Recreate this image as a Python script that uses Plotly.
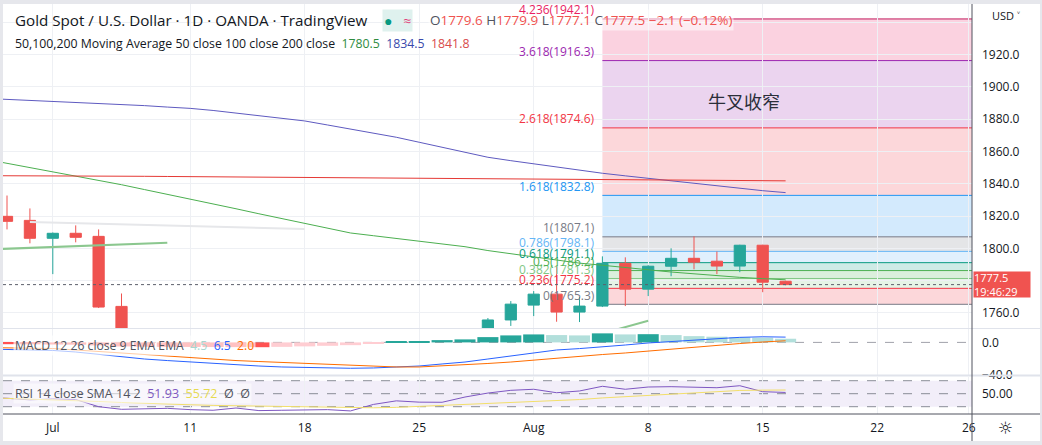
import plotly.graph_objects as go

# ---------------- data ----------------
dates = ["2022-06-28", "2022-06-29", "2022-06-30", "2022-07-01", "2022-07-04", "2022-07-05",
         "2022-07-06", "2022-07-07", "2022-07-08", "2022-07-11", "2022-07-12", "2022-07-13",
         "2022-07-14", "2022-07-15", "2022-07-18", "2022-07-19", "2022-07-20", "2022-07-21",
         "2022-07-22", "2022-07-25", "2022-07-26", "2022-07-27", "2022-07-28", "2022-07-29",
         "2022-08-01", "2022-08-02", "2022-08-03", "2022-08-04", "2022-08-05", "2022-08-08",
         "2022-08-09", "2022-08-10", "2022-08-11", "2022-08-12", "2022-08-15", "2022-08-16"]
future_dates = ["2022-08-17", "2022-08-18", "2022-08-19", "2022-08-22", "2022-08-23",
                "2022-08-24", "2022-08-25", "2022-08-26", "2022-08-29"]

open_ = [1821.0, 1819.8, 1817.3, 1806.2, 1809.3, 1807.4, 1764.0, 1739.5, 1740.0, 1742.0, 1733.0, 1725.5,
         1735.0, 1709.0, 1708.0, 1709.5, 1711.0, 1696.0, 1719.0, 1727.0, 1719.0, 1717.0, 1734.5, 1755.6,
         1764.8, 1771.6, 1760.5, 1764.2, 1790.7, 1774.7, 1788.9, 1793.8, 1792.0, 1789.0, 1801.9, 1779.6]
high = [1830.0, 1832.7, 1824.7, 1809.8, 1814.2, 1811.7, 1772.0, 1749.5, 1748.0, 1745.0, 1738.5, 1745.0,
        1736.0, 1716.5, 1724.0, 1717.0, 1719.0, 1721.0, 1739.0, 1736.0, 1727.0, 1740.0, 1756.8, 1767.3,
        1773.5, 1789.0, 1769.8, 1795.0, 1794.4, 1789.5, 1800.0, 1807.4, 1798.0, 1802.2, 1802.2, 1779.9]
low = [1814.0, 1811.7, 1803.1, 1784.0, 1803.7, 1763.0, 1732.0, 1732.5, 1737.0, 1728.5, 1722.0, 1707.5,
       1697.5, 1696.0, 1706.0, 1706.5, 1692.0, 1681.0, 1713.0, 1715.5, 1711.0, 1712.0, 1730.0, 1751.9,
       1758.0, 1754.5, 1754.3, 1763.6, 1764.2, 1770.4, 1782.7, 1787.0, 1784.0, 1785.2, 1772.8, 1777.1]
close = [1820.0, 1816.7, 1806.2, 1809.3, 1806.8, 1763.6, 1739.0, 1740.0, 1742.5, 1733.0, 1725.5, 1735.0,
         1709.0, 1708.0, 1709.5, 1711.0, 1696.0, 1719.0, 1727.0, 1719.0, 1717.0, 1734.5, 1755.6, 1765.4,
         1771.6, 1760.5, 1764.2, 1790.7, 1774.7, 1788.9, 1793.8, 1791.4, 1789.0, 1801.9, 1779.0, 1777.5]

ma50 = [1855.3, 1852.7, 1850.1, 1847.6, 1845.0, 1842.4, 1839.4, 1836.4, 1833.5, 1830.5, 1827.4, 1824.5,
        1821.4, 1818.4, 1815.4, 1812.4, 1809.5, 1807.8, 1806.1, 1804.5, 1802.8, 1801.0, 1798.6, 1796.6,
        1794.6, 1792.6, 1790.8, 1789.5, 1788.0, 1786.5, 1785.3, 1784.2, 1783.0, 1782.0, 1781.2, 1780.5]
ma100 = [1892.9, 1892.3, 1891.8, 1891.2, 1890.6, 1890.0, 1889.2, 1888.4, 1887.5, 1886.7, 1885.4, 1883.8,
         1882.3, 1880.7, 1878.9, 1876.4, 1873.9, 1871.4, 1868.8, 1865.7, 1862.5, 1859.2, 1856.4, 1854.3,
         1852.3, 1850.2, 1848.1, 1846.5, 1844.9, 1843.3, 1841.8, 1840.2, 1838.7, 1837.2, 1835.7, 1834.5]
ma200 = [1845.0, 1845.0, 1844.9, 1844.9, 1844.8, 1844.7, 1844.6, 1844.6, 1844.5, 1844.4, 1844.4, 1844.3,
         1844.2, 1844.1, 1844.1, 1844.0, 1843.9, 1843.8, 1843.7, 1843.6, 1843.5, 1843.4, 1843.3, 1843.2,
         1843.1, 1843.0, 1842.9, 1842.8, 1842.7, 1842.6, 1842.5, 1842.3, 1842.2, 1842.0, 1841.9, 1841.8]

macd_line = [-8.1, -8.7, -9.3, -9.9, -11.8, -14.9, -18.0, -20.4, -22.3, -24.1, -26.0, -27.8,
             -29.0, -30.2, -30.8, -31.4, -31.8, -31.4, -30.2, -29.0, -26.5, -24.1, -20.4, -16.7,
             -12.4, -9.3, -7.6, -5.7, -3.2, -0.7, 1.1, 2.9, 4.2, 6.2, 6.9, 6.5]
macd_signal = [-6.3, -6.5, -6.9, -7.5, -9.3, -11.2, -13.0, -14.9, -16.7, -18.6, -20.4, -22.3,
               -23.5, -24.7, -25.9, -27.2, -28.4, -29.6, -30.2, -30.2, -29.0, -27.8, -25.9, -24.1,
               -21.6, -19.5, -17.3, -14.9, -13.0, -10.6, -8.1, -5.7, -3.2, -1.4, 0.5, 2.0]
macd_hist = [-1.8, -2.2, -2.4, -2.6, -2.8, -3.7, -5.0, -5.3, -5.5, -5.6, -5.7, -5.8,
             -5.9, -5.5, -4.9, -4.2, -3.4, -1.8, 0.7, 1.6, 2.8, 3.7, 6.5, 8.6,
             9.8, 9.0, 8.6, 11.1, 9.8, 10.1, 9.0, 7.7, 7.0, 6.5, 5.8, 4.5]

rsi = [44.0, 43.0, 40.5, 42.0, 41.0, 30.0, 26.0, 27.0, 27.5, 25.5, 24.5, 28.0,
       24.0, 24.5, 25.0, 25.5, 23.5, 33.5, 39.0, 37.0, 36.8, 44.9, 51.0, 55.2,
       56.8, 51.5, 54.2, 61.4, 56.8, 60.3, 60.8, 60.3, 59.2, 62.3, 53.1, 51.93]
rsi_sma = [44.0, 43.0, 42.0, 41.0, 40.0, 38.0, 36.5, 35.0, 34.0, 33.0, 32.0, 31.5,
           31.0, 30.5, 30.0, 29.5, 28.5, 28.3, 29.0, 30.5, 31.8, 33.0, 34.5, 36.0,
           37.5, 39.0, 41.0, 43.5, 45.5, 47.5, 49.5, 51.5, 53.0, 55.0, 55.5, 55.72]
rsi_levels = [70, 50, 30]

fib_start = "2022-08-04"
fib_ratios = ["0", "0.236", "0.382", "0.5", "0.618", "0.786", "1", "1.618", "2.618", "3.618", "4.236"]
fib_prices = [1765.3, 1775.2, 1781.3, 1786.2, 1791.1, 1798.1, 1807.1, 1832.8, 1874.6, 1916.3, 1942.1]

trend_green_a = (["2022-06-28", "2022-07-08"], [1799.2, 1803.5])
trend_green_b = (["2022-07-21", "2022-08-08"], [1708.0, 1755.1])
trend_gray = (["2022-06-30", "2022-07-18"], [1816.3, 1812.0])

tick_dates = ["2022-07-01", "2022-07-11", "2022-07-18", "2022-07-25", "2022-08-01",
              "2022-08-08", "2022-08-15", "2022-08-22", "2022-08-26"]
tick_text = ["Jul", "11", "18", "25", "Aug", "8", "15", "22", "26"]
price_ticks = [1760, 1780, 1800, 1820, 1840, 1860, 1880, 1900, 1920, 1940]
price_tick_text = ["1760.0", "", "1800.0", "1820.0", "1840.0", "1860.0", "1880.0", "1900.0", "1920.0", ""]

# ---------------- styling ----------------
W, H = 1042, 445
ML, MR, MT, MB = 3, 70, 4, 31
PW, PH = W - ML - MR, H - MT - MB
FONT = "Open Sans, Noto Sans, sans-serif"
TXT = "#131722"
UP, DOWN = "#26a69a", "#ef5350"
GRID = "#eef0f4"
fib_colors = ["#787b86", "#f23645", "#81c784", "#4caf50", "#089981", "#64b5f6",
              "#787b86", "#2196f3", "#f23645", "#9c27b0", "#e91e63"]


def px(xp):
    return (xp - ML) / PW


def py(yp):
    return (H - MB - yp) / PH


def rgba(hx, a):
    hx = hx.lstrip("#")
    return "rgba(%d,%d,%d,%.2f)" % (int(hx[0:2], 16), int(hx[2:4], 16), int(hx[4:6], 16), a)


axis_dates = dates + future_dates
pos = {d: k for k, d in enumerate(axis_dates)}
xs = [pos[d] for d in dates]
tickpos = [pos[d] for d in tick_dates]
XR = [0.825, 43.14]

fig = go.Figure()

# main pane
fig.add_trace(go.Candlestick(
    x=xs, open=open_, high=high, low=low, close=close,
    increasing=dict(line=dict(color=UP, width=1), fillcolor=UP),
    decreasing=dict(line=dict(color=DOWN, width=1), fillcolor=DOWN),
    xaxis="x", yaxis="y", hoverinfo="skip"))
for ys, col in [(ma50, "#4caf50"), (ma100, "#5e5ac0"), (ma200, "#e53935")]:
    fig.add_trace(go.Scatter(x=xs, y=ys, mode="lines", line=dict(color=col, width=1),
                             xaxis="x", yaxis="y", hoverinfo="skip"))
for (tx, ty), col in [(trend_green_a, "#8bc78f"), (trend_green_b, "#8bc78f"), (trend_gray, "#e6e7ea")]:
    fig.add_trace(go.Scatter(x=[pos[d] for d in tx], y=ty, mode="lines",
                             line=dict(color=col, width=2), xaxis="x", yaxis="y", hoverinfo="skip"))

# MACD pane
hist_colors = []
for k, h in enumerate(macd_hist):
    prev = macd_hist[k - 1] if k > 0 else h
    if h >= 0:
        hist_colors.append("#26a69a" if h >= prev else "#b2dfdb")
    else:
        hist_colors.append("#ffcdd2" if h > prev else "#ff5252")
fig.add_trace(go.Bar(x=xs, y=macd_hist, width=0.92, marker=dict(color=hist_colors, line=dict(width=0)),
                     xaxis="x2", yaxis="y2", hoverinfo="skip"))
fig.add_trace(go.Scatter(x=xs, y=macd_line, mode="lines", line=dict(color="#2962ff", width=1),
                         xaxis="x2", yaxis="y2", hoverinfo="skip"))
fig.add_trace(go.Scatter(x=xs, y=macd_signal, mode="lines", line=dict(color="#ff6d00", width=1),
                         xaxis="x2", yaxis="y2", hoverinfo="skip"))

# RSI pane
fig.add_trace(go.Scatter(x=xs, y=rsi, mode="lines", line=dict(color="#7e57c2", width=1),
                         xaxis="x3", yaxis="y3", hoverinfo="skip"))
fig.add_trace(go.Scatter(x=xs, y=rsi_sma, mode="lines", line=dict(color="#f2df6b", width=1),
                         xaxis="x3", yaxis="y3", hoverinfo="skip"))

# ---------------- shapes ----------------
shapes = []
shapes.append(dict(type="rect", xref="paper", yref="paper", x0=0, x1=px(1040), y0=py(441), y1=1,
                   fillcolor="#ffffff", line=dict(width=0), layer="below"))
fs = pos[fib_start]
for j in range(len(fib_prices) - 1):
    shapes.append(dict(type="rect", xref="x", yref="y", x0=fs, x1=XR[1] + 1, y0=fib_prices[j],
                       y1=fib_prices[j + 1], fillcolor=rgba(fib_colors[j + 1], 0.2),
                       line=dict(width=0), layer="below"))
for j, p in enumerate(fib_prices):
    shapes.append(dict(type="line", xref="x", yref="y", x0=fs, x1=XR[1] + 1, y0=p, y1=p,
                       line=dict(color=fib_colors[j] if j != 10 else "#c2185b", width=1), layer="below"))
# RSI band & levels
shapes.append(dict(type="rect", xref="paper", yref="y3", x0=0, x1=1, y0=rsi_levels[2], y1=rsi_levels[0],
                   fillcolor="rgba(126,87,194,0.10)", line=dict(width=0), layer="below"))
for lv in rsi_levels:
    shapes.append(dict(type="line", xref="paper", yref="y3", x0=0, x1=1, y0=lv, y1=lv,
                       line=dict(color="rgba(120,123,134,0.85)", width=1, dash="dash"), layer="below"))
# MACD zero line
shapes.append(dict(type="line", xref="paper", yref="y2", x0=0, x1=1, y0=0, y1=0,
                   line=dict(color="rgba(120,123,134,0.7)", width=1, dash="dash"), layer="below"))
# last price line
shapes.append(dict(type="line", xref="paper", yref="y", x0=0, x1=1, y0=close[-1], y1=close[-1],
                   line=dict(color="#5d606b", width=1, dash="dot"), layer="above"))
# pane separators and borders
shapes.append(dict(type="line", xref="paper", yref="paper", x0=0, x1=px(1040), y0=py(328.5), y1=py(328.5),
                   line=dict(color="#e0e3eb", width=1), layer="above"))
shapes.append(dict(type="line", xref="paper", yref="paper", x0=0, x1=px(1040), y0=py(375.5), y1=py(375.5),
                   line=dict(color="#e0e3eb", width=2), layer="above"))
shapes.append(dict(type="line", xref="paper", yref="paper", x0=0, x1=px(1040), y0=0, y1=0,
                   line=dict(color="#50535e", width=1), layer="above"))
shapes.append(dict(type="line", xref="paper", yref="paper", x0=1, x1=1, y0=py(441), y1=1,
                   line=dict(color="#50535e", width=1), layer="above"))

# ---------------- annotations ----------------
ann = []


def txt(x, y, text, size=12, color=TXT, xanchor="left", bg=None, fam=FONT):
    d = dict(xref="paper", yref="paper", x=px(x), y=py(y), text=text, showarrow=False,
             xanchor=xanchor, yanchor="middle", font=dict(family=fam, size=size, color=color))
    if bg:
        d["bgcolor"] = bg
    ann.append(d)


R = "#ef5350"
SP = "&nbsp;"
txt(13, 20, "Gold Spot / U.S. Dollar · 1D · OANDA · TradingView", size=15.2)
txt(382, 20, "<span style='color:#089981'>●</span>%s<span style='color:#e0457b'>≈</span>" % (SP * 3),
    size=14, bg="#dff1ee")
txt(428, 20, ("O<span style='color:%s'>1779.6</span> H<span style='color:%s'>1779.9</span> "
              "L<span style='color:%s'>1777.1</span> C<span style='color:%s'>1777.5</span> "
              "<span style='color:%s'>−2.1 (−0.12%%)</span>") % (R, R, R, R, R),
    size=13.5, color="#50535e", bg="rgba(255,255,255,0.55)")
txt(13, 44, ("50,100,200 Moving Average 50 close 100 close 200 close  "
             "<span style='color:#2e8b3e'>1780.5</span>  <span style='color:#3949ab'>1834.5</span>  "
             "<span style='color:#d84a4a'>1841.8</span>"), size=12.3)
txt(13, 345, ("MACD 12 26 close 9 EMA EMA  <span style='color:#a7d6cf'>4.5</span>  "
              "<span style='color:#2962ff'>6.5</span>  <span style='color:#ff6d00'>2.0</span>"),
    size=12.2, color="#50535e", bg="rgba(255,255,255,0.65)")
txt(13, 393, ("RSI 14 close SMA 14 2  <span style='color:#7e57c2'>51.93</span>  "
              "<span style='color:#e6da4f'>55.72</span>  Ø  Ø"),
    size=12.5, color="#50535e", bg="rgba(255,255,255,0.55)")
txt(990, 15, "USD ˅", size=11)
txt(1005, 428, "☼", size=17, xanchor="center", fam="DejaVu Sans")

for j, (r, p) in enumerate(zip(fib_ratios, fib_prices)):
    ann.append(dict(xref="x", yref="y", x=fs, y=p, text="%s(%.1f)" % (r, p), showarrow=False,
                    xanchor="right", yanchor="middle", xshift=-5, yshift=9,
                    font=dict(family=FONT, size=12, color=fib_colors[j])))

ann.append(dict(xref="x", yref="y", x=33.2, y=1891.3, text="牛叉收窄", showarrow=False,
                font=dict(family="Noto Sans CJK SC", size=18, color="#2a2e39")))

ann.append(dict(xref="paper", yref="y", x=1, y=close[-1], text="1777.5<br>19:46:29", showarrow=False,
                xanchor="left", yanchor="middle", xshift=1, align="left", bgcolor="#f05350",
                width=56, height=25, borderpad=0,
                font=dict(family=FONT, size=11, color="#ffffff")))

common_x = dict(range=XR, tickvals=tickpos, showgrid=True, gridcolor=GRID, zeroline=False,
                fixedrange=True, showline=False, ticks="")
fig.update_layout(
    width=W, height=H, margin=dict(l=ML, r=MR, t=MT, b=MB),
    paper_bgcolor="#e6e7ec", plot_bgcolor="#ffffff", showlegend=False,
    font=dict(family=FONT, size=12, color=TXT),
    xaxis=dict(domain=[0, 1], anchor="y", showticklabels=False, rangeslider=dict(visible=False), **common_x),
    xaxis2=dict(domain=[0, 1], anchor="y2", showticklabels=False, **common_x),
    xaxis3=dict(domain=[0, 1], anchor="y3", showticklabels=True, ticktext=tick_text,
                ticklabelstandoff=5, tickfont=dict(size=12, color=TXT), **common_x),
    yaxis=dict(domain=[py(328), 1], anchor="x", side="right", range=[1750.62, 1951.36],
               tickvals=price_ticks, ticktext=price_tick_text, showgrid=True, gridcolor=GRID,
               zeroline=False, ticks="", ticklabelstandoff=9, tickfont=dict(size=12, color=TXT)),
    yaxis2=dict(domain=[py(375), py(329)], anchor="x2", side="right", range=[-40.05, 16.46],
                tickvals=[0, -40], ticktext=["0.0", "−40.0"], showgrid=False, zeroline=False,
                ticks="", ticklabelstandoff=9, tickfont=dict(size=12, color=TXT)),
    yaxis3=dict(domain=[0, py(377)], anchor="x3", side="right", range=[18.77, 75.7],
                tickvals=[50], ticktext=["50.00"], showgrid=False, zeroline=False,
                ticks="", ticklabelstandoff=9, tickfont=dict(size=12, color=TXT)),
    shapes=shapes, annotations=ann,
)

fig.write_html("out.html")
